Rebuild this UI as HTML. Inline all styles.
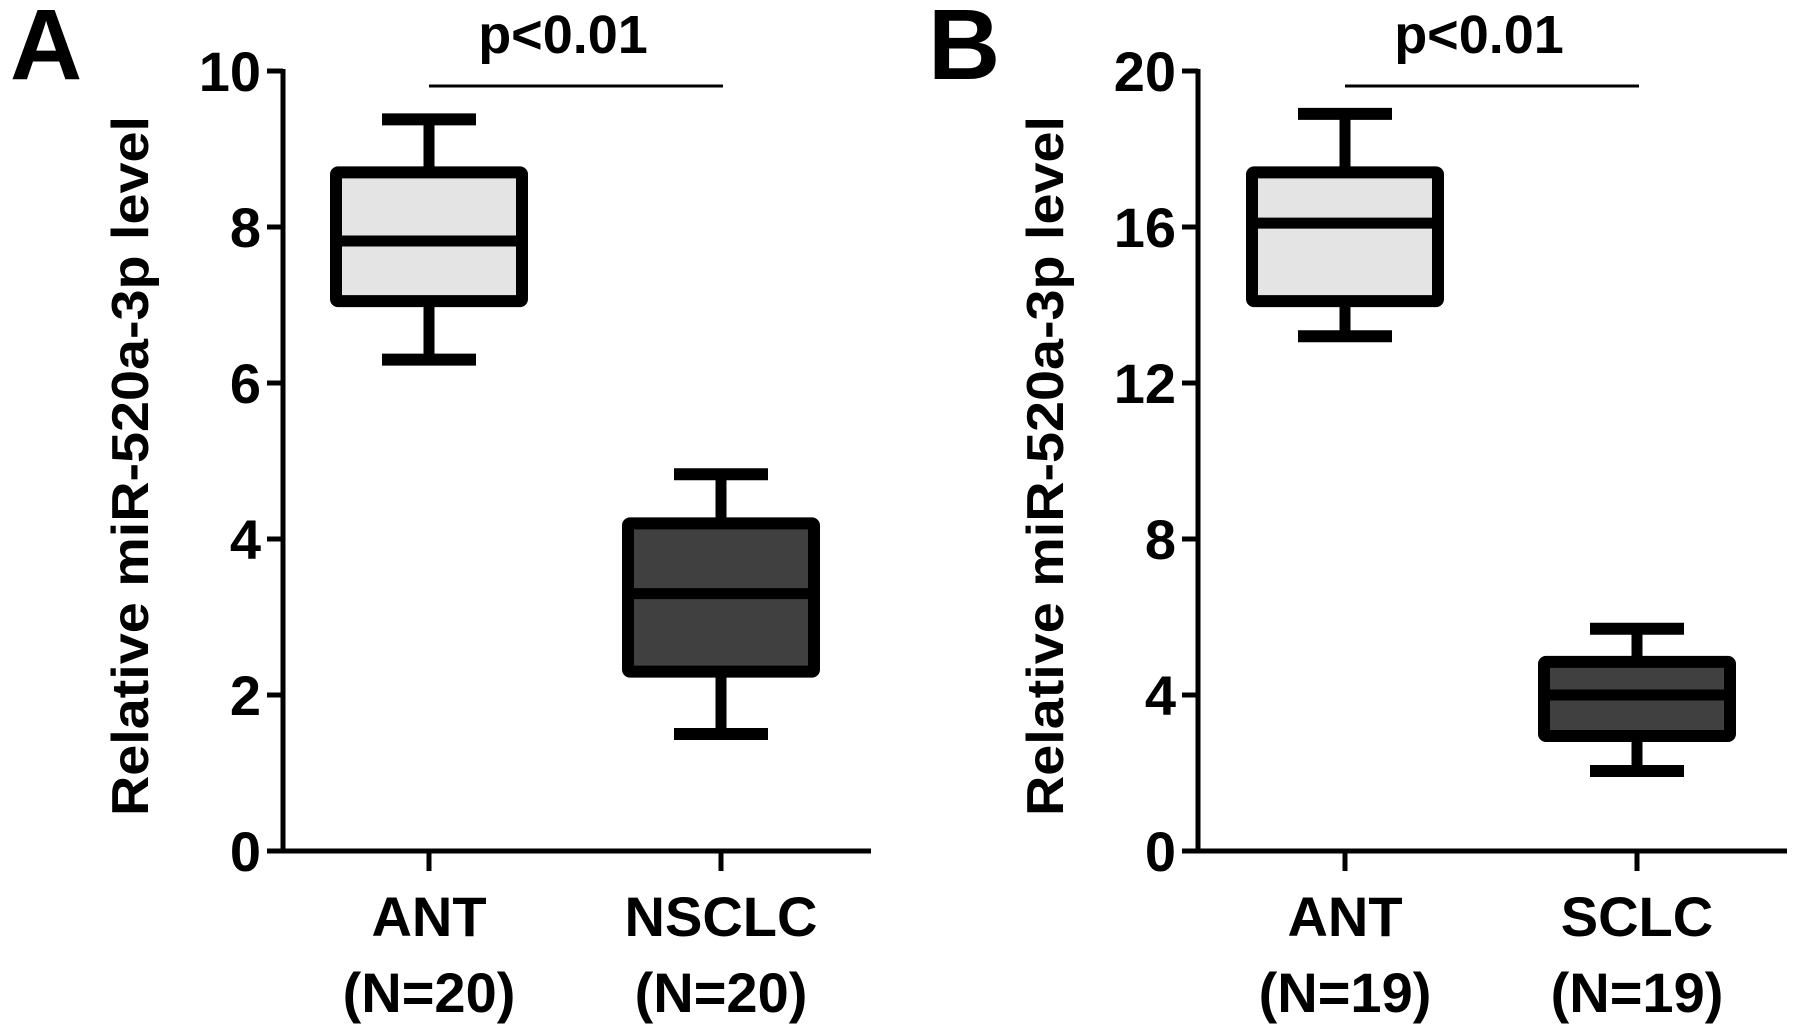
<!DOCTYPE html>
<html><head><meta charset="utf-8"><style>
html,body{margin:0;padding:0;background:#fff;}
svg{display:block;font-family:"Liberation Sans",Arial,sans-serif;font-weight:bold;}
</style></head><body>
<svg id="chart" width="1795" height="1031" viewBox="0 0 1795 1031"></svg>
<script>
// Panel A data
const catsA = ["ANT", "NSCLC"];
const nA = ["(N=20)", "(N=20)"];
const lowA = [6.3, 1.5];
const q1A = [7.05, 2.3];
const medA = [7.82, 3.3];
const q3A = [8.7, 4.2];
const highA = [9.38, 4.83];
const ticksA = [0, 2, 4, 6, 8, 10];
// Panel B data
const catsB = ["ANT", "SCLC"];
const nB = ["(N=19)", "(N=19)"];
const lowB = [13.2, 2.05];
const q1B = [14.1, 2.95];
const medB = [16.1, 4.0];
const q3B = [17.4, 4.85];
const highB = [18.9, 5.7];
const ticksB = [0, 4, 8, 12, 16, 20];
const fills = ["#e4e4e4", "#404040"];

const svg = document.getElementById('chart');
const NS = "http://www.w3.org/2000/svg";
function mk(tag, attrs, parent) {
  const e = document.createElementNS(NS, tag);
  for (const k in attrs) e.setAttribute(k, attrs[k]);
  (parent || svg).appendChild(e);
  return e;
}

function panel(cfg) {
  const g = mk('g', {});
  
  
  const yTop = 71, yBot = 851;
  const yMax = cfg.ticks[cfg.ticks.length - 1];
  const y = v => yBot - (v / yMax) * (yBot - yTop);
  const x = i => cfg.catX[i];

  const L = mk('text', {x: cfg.letterX, y: 79, 'font-size': 100, fill: '#000'}, g);
  L.textContent = cfg.letter;
  
  

  const ya = mk('line', {x1: cfg.axisX, y1: yTop - 2, x2: cfg.axisX, y2: yBot + 2, stroke: '#000', 'stroke-width': 5}, g);
  
  
  const xa = mk('line', {x1: cfg.axisX - 16, y1: yBot, x2: cfg.axisEnd, y2: yBot, stroke: '#000', 'stroke-width': 5}, g);
  
  

  cfg.ticks.forEach(t => {
    const tk = mk('line', {x1: cfg.axisX - 16, y1: y(t), x2: cfg.axisX, y2: y(t), stroke: '#000', 'stroke-width': 5}, g);
    
    
    const tl = mk('text', {x: cfg.axisX - 22, y: y(t) + 20, 'font-size': 56, 'text-anchor': 'end', fill: '#000'}, g);
    tl.textContent = t;
    
    
  });

  const yt = mk('text', {x: 0, y: 0, 'font-size': 52, 'text-anchor': 'middle', fill: '#000',
    transform: `translate(${cfg.titleX},${(yTop + yBot) / 2 + 5}) rotate(-90)`,
    textLength: 700, lengthAdjust: 'spacingAndGlyphs'}, g);
  yt.textContent = 'Relative miR-520a-3p level';
  
  

  cfg.cats.forEach((c, i) => {
    const cx = x(i);
    const tk = mk('line', {x1: cx, y1: yBot, x2: cx, y2: yBot + 20, stroke: '#000', 'stroke-width': 5}, g);
    
    
    const cl = mk('text', {x: cx, y: 936, 'font-size': 56, 'text-anchor': 'middle', fill: '#000'}, g);
    cl.textContent = c;
    
    
    const nl = mk('text', {x: cx, y: 1012, 'font-size': 56, 'text-anchor': 'middle', fill: '#000'}, g);
    nl.textContent = cfg.n[i];
    
    

    const bg = mk('g', {}, g);
    
    
    const bw = 186, cw = 94;
    const w1 = mk('line', {x1: cx, y1: y(cfg.high[i]), x2: cx, y2: y(cfg.q3[i]), stroke: '#000', 'stroke-width': 11}, bg);
    
    
    const w2 = mk('line', {x1: cx, y1: y(cfg.q1[i]), x2: cx, y2: y(cfg.low[i]), stroke: '#000', 'stroke-width': 11}, bg);
    
    
    const c1 = mk('line', {x1: cx - cw / 2, y1: y(cfg.high[i]), x2: cx + cw / 2, y2: y(cfg.high[i]), stroke: '#000', 'stroke-width': 12}, bg);
    
    
    const c2 = mk('line', {x1: cx - cw / 2, y1: y(cfg.low[i]), x2: cx + cw / 2, y2: y(cfg.low[i]), stroke: '#000', 'stroke-width': 12}, bg);
    
    
    const r = mk('rect', {x: cx - bw / 2, y: y(cfg.q3[i]), width: bw, height: y(cfg.q1[i]) - y(cfg.q3[i]),
      fill: fills[i], stroke: '#000', 'stroke-width': 12, 'stroke-linejoin': 'round', rx: 2}, bg);
    
    
    const m = mk('line', {x1: cx - bw / 2, y1: y(cfg.med[i]), x2: cx + bw / 2, y2: y(cfg.med[i]), stroke: '#000', 'stroke-width': 11}, bg);
    
    
  });

  const pb = mk('line', {x1: x(0), y1: 86, x2: x(1) + 2, y2: 86, stroke: '#000', 'stroke-width': 3}, g);
  
  
  const pt = mk('text', {x: (x(0) + x(1)) / 2 - 12, y: 53, 'font-size': 54, 'text-anchor': 'middle', fill: '#000'}, g);
  pt.textContent = 'p<0.01';
  
  
}

panel({name: 'panel-a', letter: 'A', letterX: 10, axisX: 283, axisEnd: 871, titleX: 148, catX: [429, 721],
  cats: catsA, n: nA, low: lowA, q1: q1A, med: medA, q3: q3A, high: highA, ticks: ticksA});
panel({name: 'panel-b', letter: 'B', letterX: 928, axisX: 1198, axisEnd: 1787, titleX: 1063, catX: [1345, 1637],
  cats: catsB, n: nB, low: lowB, q1: q1B, med: medB, q3: q3B, high: highB, ticks: ticksB});
</script>
</body></html>
